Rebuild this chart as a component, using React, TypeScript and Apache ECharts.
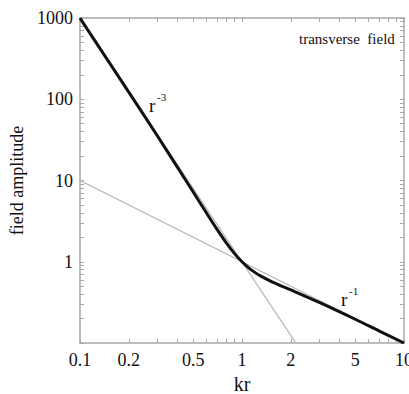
import React, { useEffect, useRef } from "react";
import * as echarts from "echarts";

const kr = [0.1, 0.2, 0.3, 0.4, 0.5, 0.6, 0.7, 0.8, 0.9, 1, 1.1, 1.2, 1.3, 1.5, 1.7, 2, 3, 5, 7, 10];
const field = [995, 122.6, 35.5, 14.5, 7.21, 4.06, 2.52, 1.71, 1.26, 1.0, 0.84, 0.74, 0.67, 0.578, 0.517, 0.451, 0.316, 0.196, 0.141, 0.1];

const nearX = [0.1, 2.15];
const nearY = [1000, 0.1];
const farX = [0.1, 10];
const farY = [10, 0.1];

const xLabels = [0.1, 0.2, 0.5, 1, 2, 5, 10];
const yLabels = [1, 10, 100, 1000];
const xTicks = [0.1, 0.2, 0.3, 0.4, 0.5, 0.6, 0.7, 0.8, 0.9, 1, 2, 3, 4, 5, 6, 7, 8, 9, 10];
const yTicks = [
  0.1, 0.2, 0.3, 0.4, 0.5, 0.6, 0.7, 0.8, 0.9,
  1, 2, 3, 4, 5, 6, 7, 8, 9,
  10, 20, 30, 40, 50, 60, 70, 80, 90,
  100, 200, 300, 400, 500, 600, 700, 800, 900, 1000,
];

const FONT = "'Liberation Serif', 'DejaVu Serif', serif";
const AXIS_COLOR = "#a8a8a8";

export default function App() {
  const ref = useRef<HTMLDivElement>(null);
  useEffect(() => {
    if (!ref.current) return;
    const chart = echarts.init(ref.current, undefined, { renderer: "svg" });
    const zip = (xs: number[], ys: number[]) => xs.map((x, i) => [x, ys[i]]);
    const axisCommon = {
      axisLine: { show: true, lineStyle: { color: AXIS_COLOR, width: 1.5 } },
      splitLine: { show: false },
      minorTick: { show: false },
      minorSplitLine: { show: false },
    };
    chart.setOption({
      animation: false,
      backgroundColor: "#ffffff",
      grid: { left: 80, right: 5, top: 18, bottom: 51, containLabel: false, outerBoundsMode: "none" },
      xAxis: [
        {
          type: "log",
          min: 0.1,
          max: 10,
          logBase: 10,
          ...axisCommon,
          name: "kr",
          nameLocation: "middle",
          nameGap: 28,
          nameTextStyle: { fontFamily: FONT, fontSize: 20, color: "#111" },
          axisTick: { show: true, inside: true, length: 4, customValues: xTicks, lineStyle: { color: AXIS_COLOR } },
          axisLabel: {
            show: true,
            customValues: xLabels,
            formatter: (v: number) => String(v),
            fontFamily: FONT,
            fontSize: 18,
            color: "#111",
            margin: 8,
            hideOverlap: false,
          },
        },
        {
          type: "log",
          min: 0.1,
          max: 10,
          position: "top",
          ...axisCommon,
          axisTick: { show: true, inside: true, length: 4, customValues: xTicks, lineStyle: { color: AXIS_COLOR } },
          axisLabel: { show: false },
        },
      ],
      yAxis: [
        {
          type: "log",
          min: 0.1,
          max: 1000,
          ...axisCommon,
          name: "field amplitude",
          nameLocation: "middle",
          nameGap: 47,
          nameRotate: 90,
          nameTextStyle: { fontFamily: FONT, fontSize: 18, color: "#111" },
          axisTick: { show: true, inside: true, length: 4, customValues: yTicks, lineStyle: { color: AXIS_COLOR } },
          axisLabel: {
            show: true,
            customValues: yLabels,
            formatter: (v: number) => String(v),
            fontFamily: FONT,
            fontSize: 18,
            color: "#111",
            margin: 7,
          },
        },
        {
          type: "log",
          min: 0.1,
          max: 1000,
          position: "right",
          ...axisCommon,
          axisTick: { show: true, inside: true, length: 4, customValues: yTicks, lineStyle: { color: AXIS_COLOR } },
          axisLabel: { show: false },
        },
      ],
      series: [
        {
          type: "line",
          data: zip(farX, farY),
          showSymbol: false,
          lineStyle: { color: "#b4b4b4", width: 1.3 },
          z: 1,
        },
        {
          type: "line",
          data: zip(nearX, nearY),
          showSymbol: false,
          lineStyle: { color: "#b4b4b4", width: 1.3 },
          z: 1,
        },
        {
          type: "line",
          data: zip(kr, field),
          showSymbol: false,
          smooth: 0.3,
          lineStyle: { color: "#111111", width: 3 },
          z: 3,
        },
      ],
      graphic: [
        {
          type: "text",
          x: 299,
          y: 31,
          style: { text: "transverse  field", font: `15px ${FONT}`, fill: "#111" },
        },
        {
          type: "text",
          x: 149,
          y: 96,
          style: { text: "r", font: `19px ${FONT}`, fill: "#111" },
        },
        {
          type: "text",
          x: 157,
          y: 91,
          style: { text: "-3", font: `11px ${FONT}`, fill: "#111" },
        },
        {
          type: "text",
          x: 341,
          y: 290,
          style: { text: "r", font: `19px ${FONT}`, fill: "#111" },
        },
        {
          type: "text",
          x: 349,
          y: 285,
          style: { text: "-1", font: `11px ${FONT}`, fill: "#111" },
        },
      ],
    });
    return () => chart.dispose();
  }, []);
  return (
    <div
      ref={ref}
      style={{ position: "absolute", left: 0, top: 0, width: 409, height: 394 }}
    />
  );
}
